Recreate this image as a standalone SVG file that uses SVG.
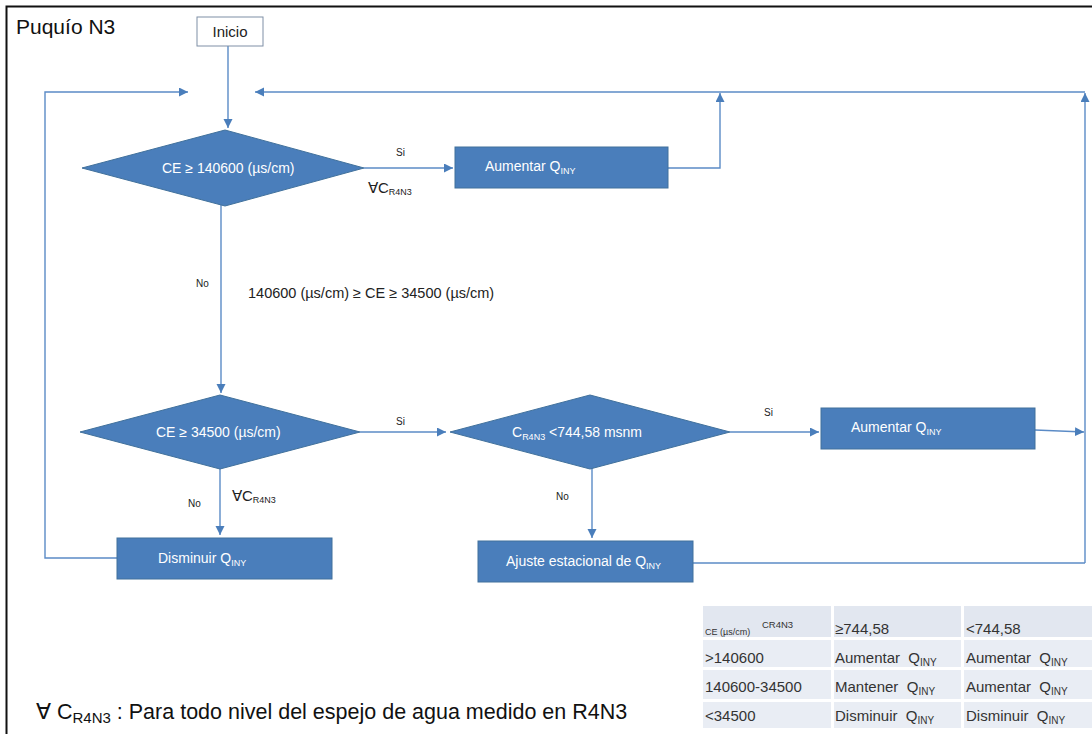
<svg xmlns="http://www.w3.org/2000/svg" width="1092" height="734" viewBox="0 0 1092 734">
<style>
text{font-family:"Liberation Sans",Arial,sans-serif;}
.box{fill:#4a7ebb;stroke:#41719c;stroke-width:1;}
.wt{fill:#ffffff;font-size:14px;}
.lbl{fill:#222;font-size:10px;}
.con{fill:none;stroke:#5b8bc6;stroke-width:1.4;}
.cell{fill:#e9edf4;}
.hcell{fill:#e2e7f0;}
.tt{fill:#333;font-size:15px;}
</style>
<defs>
<marker id="ah" markerUnits="userSpaceOnUse" markerWidth="10" markerHeight="10" refX="9" refY="4.5" orient="auto">
<path d="M0,0 L9,4.5 L0,9 z" fill="#4a7ebb"/>
</marker>
</defs>
<rect x="0" y="0" width="1092" height="734" fill="#ffffff"/>
<path d="M6.5,734 V6.5 H1092" fill="none" stroke="#111" stroke-width="2"/>
<text x="16" y="34" font-size="21" fill="#111">Puquío N3</text>

<g id="connectors">
<path class="con" d="M228,46 V128" marker-end="url(#ah)"/>
<path class="con" d="M117,558 H45 V92 H188" marker-end="url(#ah)"/>
<path class="con" d="M1085,92 H255" marker-end="url(#ah)"/>
<path class="con" d="M1085,563 V93" marker-end="url(#ah)"/>
<path class="con" d="M364,168 H453" marker-end="url(#ah)"/>
<path class="con" d="M668,168 H720 V93" marker-end="url(#ah)"/>
<path class="con" d="M221,204 V393" marker-end="url(#ah)"/>
<path class="con" d="M360,432 H446" marker-end="url(#ah)"/>
<path class="con" d="M730,432 H819" marker-end="url(#ah)"/>
<path class="con" d="M1035,430 L1084,432" marker-end="url(#ah)"/>
<path class="con" d="M592,468 V538" marker-end="url(#ah)"/>
<path class="con" d="M693,563 H1085"/>
<path class="con" d="M220,468 V535" marker-end="url(#ah)"/>
<text class="lbl" x="396" y="156">Si</text>
<text x="368" y="193" font-size="15" fill="#222">∀C<tspan font-size="9" dy="2">R4N3</tspan></text>
<text class="lbl" x="196" y="287">No</text>
<text x="248" y="298" font-size="14.5" fill="#222">140600 (µs/cm) ≥ CE ≥ 34500 (µs/cm)</text>
<text class="lbl" x="396" y="425">Si</text>
<text class="lbl" x="764" y="416">Si</text>
<text class="lbl" x="556" y="500">No</text>
<text class="lbl" x="188" y="507">No</text>
<text x="232" y="501" font-size="15" fill="#222">∀C<tspan font-size="9" dy="2">R4N3</tspan></text>
</g>

<g id="inicio">
<rect x="197" y="17" width="66" height="29" fill="#ffffff" stroke="#7f8fa6" stroke-width="1"/>
<text x="230" y="37" font-size="15" fill="#222" text-anchor="middle">Inicio</text>
</g>

<g id="decision1">
<polygon class="box" points="82,168 225,130 364,168 225,206"/>
<text class="wt" x="162" y="173">CE ≥ 140600 (µs/cm)</text>
</g>

<g id="aumentar1">
<rect class="box" x="455" y="147" width="213" height="41"/>
<text class="wt" x="485" y="171">Aumentar Q<tspan font-size="9" dy="3">INY</tspan></text>
</g>

<g id="decision2">
<polygon class="box" points="80,432 220,395 360,432 220,469"/>
<text class="wt" x="156" y="437">CE ≥ 34500 (µs/cm)</text>
</g>

<g id="decision3">
<polygon class="box" points="450,432 590,395 730,432 590,469"/>
<text class="wt" x="512" y="437">C<tspan font-size="9" dy="3">R4N3</tspan><tspan dy="-3"> &lt;744,58 msnm</tspan></text>
</g>

<g id="aumentar2">
<rect class="box" x="821" y="408" width="214" height="41"/>
<text class="wt" x="851" y="432">Aumentar Q<tspan font-size="9" dy="3">INY</tspan></text>
</g>

<g id="disminuir">
<rect class="box" x="117" y="538" width="215" height="41"/>
<text class="wt" x="158" y="563">Disminuir Q<tspan font-size="9" dy="3">INY</tspan></text>
</g>

<g id="ajuste">
<rect class="box" x="478" y="541" width="215" height="41"/>
<text class="wt" x="506" y="566">Ajuste estacional de Q<tspan font-size="9" dy="3">INY</tspan></text>
</g>

<g id="table">
<rect class="hcell" x="703" y="606" width="128" height="31"/>
<rect class="hcell" x="834" y="606" width="127" height="31"/>
<rect class="hcell" x="964" y="606" width="128" height="31"/>
<rect class="cell" x="703" y="640" width="128" height="27"/>
<rect class="cell" x="834" y="640" width="127" height="27"/>
<rect class="cell" x="964" y="640" width="128" height="27"/>
<rect class="cell" x="703" y="670" width="128" height="29"/>
<rect class="cell" x="834" y="670" width="127" height="29"/>
<rect class="cell" x="964" y="670" width="128" height="29"/>
<rect class="cell" x="703" y="702" width="128" height="26"/>
<rect class="cell" x="834" y="702" width="127" height="26"/>
<rect class="cell" x="964" y="702" width="128" height="26"/>
<text x="705" y="635" font-size="9" fill="#333">CE (µs/cm)</text>
<text x="762" y="628" font-size="9.5" fill="#333">CR4N3</text>
<text class="tt" x="835" y="634">≥744,58</text>
<text class="tt" x="966" y="634">&lt;744,58</text>
<text class="tt" x="705" y="663">&gt;140600</text>
<text class="tt" x="835" y="663" xml:space="preserve">Aumentar  Q<tspan font-size="10" dy="3">INY</tspan></text>
<text class="tt" x="966" y="663" xml:space="preserve">Aumentar  Q<tspan font-size="10" dy="3">INY</tspan></text>
<text class="tt" x="705" y="692">140600-34500</text>
<text class="tt" x="835" y="692" xml:space="preserve">Mantener  Q<tspan font-size="10" dy="3">INY</tspan></text>
<text class="tt" x="966" y="692" xml:space="preserve">Aumentar  Q<tspan font-size="10" dy="3">INY</tspan></text>
<text class="tt" x="705" y="721">&lt;34500</text>
<text class="tt" x="835" y="721" xml:space="preserve">Disminuir  Q<tspan font-size="10" dy="3">INY</tspan></text>
<text class="tt" x="966" y="721" xml:space="preserve">Disminuir  Q<tspan font-size="10" dy="3">INY</tspan></text>
</g>

<text x="36" y="719" font-size="21.5" fill="#111">∀ C<tspan font-size="15" dy="4">R4N3</tspan><tspan dy="-4"> : Para todo nivel del espejo de agua medido en R4N3</tspan></text>
</svg>
